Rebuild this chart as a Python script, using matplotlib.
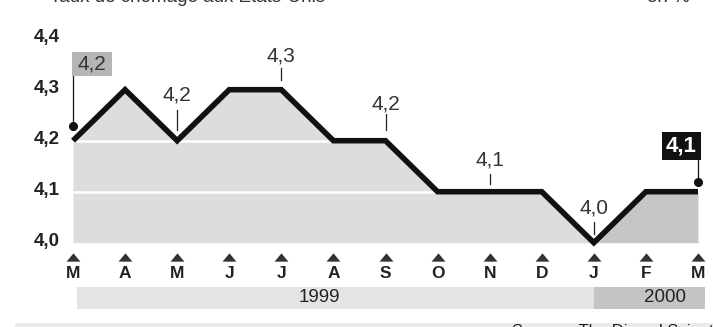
import matplotlib
matplotlib.use("Agg")
from matplotlib import pyplot as plt
from matplotlib.patches import Rectangle

plt.rcParams['font.family'] = ['Liberation Sans', 'DejaVu Sans']

# monthly unemployment rate, March 1999 -> March 2000
months = ['M', 'A', 'M', 'J', 'J', 'A', 'S', 'O', 'N', 'D', 'J', 'F', 'M']
rate = [4.2, 4.3, 4.2, 4.3, 4.3, 4.2, 4.2, 4.1, 4.1, 4.1, 4.0, 4.1, 4.1]
y_ticks = [4.0, 4.1, 4.2, 4.3, 4.4]
labelled = [2, 4, 6, 8, 10]       # points that get a value callout
year_start_2000 = 10              # index of January 2000

title = "Taux de chômage aux Etats-Unis"
unit = "en %"
source = "Source : The Dismal Scientist"

W, H = 713, 327
fig = plt.figure(figsize=(W / 100, H / 100), dpi=100)
ax = fig.add_axes([0, 0, 1, 1])

# pixel layout of the plotting frame
X0, DX = 73.0, 625.0 / 12      # x pixel of first month, spacing
Y40, PY = 242.7, 510.0          # y pixel (from top) of 4.0, pixels per unit

def px_x(p):
    return (p - X0) / DX

def px_y(p):
    return 4.0 + (Y40 - p) / PY

ax.set_xlim(px_x(0), px_x(W))
ax.set_ylim(px_y(H), px_y(0))
ax.axis('off')

def fmt(v):
    return f"{v:.1f}".replace('.', ',')

x = list(range(len(rate)))
light, dark = '#dcdddf', '#c6c6c7'

# shaded area under the curve, darker for 2000
ax.fill_between(x[:year_start_2000 + 1], 4.0, rate[:year_start_2000 + 1],
                color=light, lw=0, zorder=1)
ax.fill_between(x[year_start_2000:], 4.0, rate[year_start_2000:],
                color=dark, lw=0, zorder=1)
for v in [4.1, 4.2]:
    ax.plot([0, 12], [v, v], color='white', lw=1.8, zorder=2)

ax.plot(x, rate, color='#111111', lw=4.0, solid_joinstyle='miter',
        solid_capstyle='butt', zorder=4)

# y tick labels
for v in y_ticks:
    ax.text(px_x(60), v + 1.5 / PY, fmt(v), ha='right', va='center',
            fontsize=13.5, fontweight='bold', color='#222222')

# value callouts
lift = {2: (11, 31, 46), 4: (10, 22, 34), 6: (11, 27, 37),
        8: (8, 18, 32), 10: (9, 21, 35)}
for i in labelled:
    a, b, c = lift[i]
    ax.plot([i, i], [rate[i] + a / PY, rate[i] + b / PY], color='#222222',
            lw=0.9, zorder=3)
    ax.text(i, rate[i] + c / PY, fmt(rate[i]), ha='center', va='center',
            fontsize=15, color='#333333')

# start value box
ax.plot([0, 0], [rate[0] + 15 / PY, px_y(76)], color='#111111', lw=0.9, zorder=3)
ax.plot([0], [rate[0] + 15 / PY], 'o', color='#111111', ms=5.5, zorder=5)
ax.add_patch(Rectangle((px_x(72), px_y(76)), 40 / DX, 24 / PY,
                       facecolor='#b4b5b6', edgecolor='none', zorder=3))
ax.text(px_x(92), px_y(64), fmt(rate[0]), ha='center', va='center',
        fontsize=15, color='#333333', zorder=4)

# end value box
n = len(rate) - 1
ax.plot([n, n], [rate[n] + 10 / PY, px_y(160)], color='#111111', lw=0.9, zorder=3)
ax.plot([n], [rate[n] + 10 / PY], 'o', color='#111111', ms=5.5, zorder=5)
ax.add_patch(Rectangle((px_x(662), px_y(160)), 39 / DX, 28 / PY,
                       facecolor='#111111', edgecolor='none', zorder=3))
ax.text(px_x(681.5), px_y(146), fmt(rate[n]), ha='center', va='center',
        fontsize=16, fontweight='bold', color='white', zorder=4)

# month markers (flat triangles) and letters
flat_tri = [(-1, -0.6), (1, -0.6), (0, 0.6), (-1, -0.6)]
for i, m in enumerate(months):
    ax.plot([i], [px_y(257)], marker=flat_tri, color='#333333', ms=10,
            mec='none', zorder=3)
    ax.text(i, px_y(273.5), m, ha='center', va='center', fontsize=12.5,
            fontweight='bold', color='#222222')

# year bands
ax.add_patch(Rectangle((px_x(77), px_y(309)), year_start_2000 - px_x(77), 22 / PY,
                       facecolor='#e4e4e6', edgecolor='none'))
ax.add_patch(Rectangle((year_start_2000, px_y(309)), px_x(705) - year_start_2000,
                       22 / PY, facecolor='#c4c4c5', edgecolor='none'))
ax.text(px_x(340), px_y(298), "1999", ha='right', va='center', fontsize=13.5,
        color='#222222')
ax.text(px_x(686), px_y(298), "2000", ha='right', va='center', fontsize=13.5,
        color='#222222')

# source strip
ax.add_patch(Rectangle((px_x(15), px_y(H)), px_x(W) - px_x(15), 4.3 / PY,
                       facecolor='#ebebeb', edgecolor='none'))
ax.text(px_x(512), px_y(324), source, ha='left', va='top', fontsize=12,
        color='#222222')

# heading, mostly above the visible area
ax.text(px_x(50), px_y(2.5), title, ha='left', va='baseline', fontsize=13.5,
        color='#333333')
ax.text(px_x(647), px_y(2.5), unit, ha='left', va='baseline', fontsize=13.5,
        color='#333333')

fig.savefig("out.png", dpi=100)
